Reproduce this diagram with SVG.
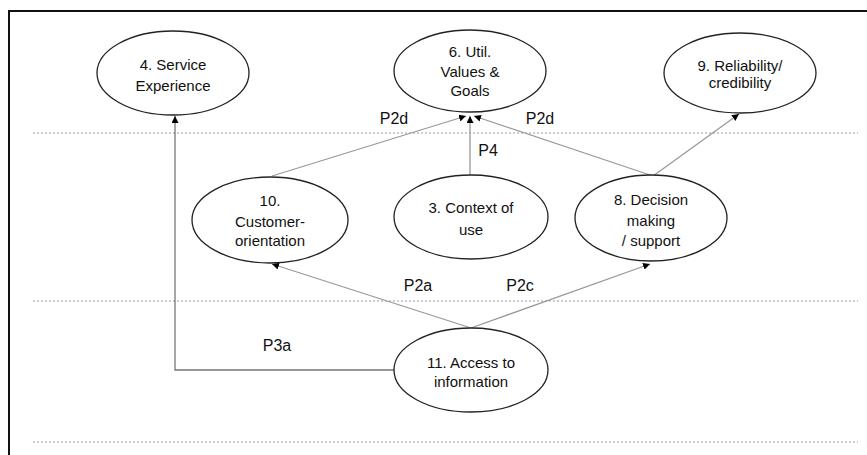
<svg xmlns="http://www.w3.org/2000/svg" width="867" height="455" viewBox="0 0 867 455">
<defs>
<marker id="ah" viewBox="0 0 10 10" refX="10" refY="5" markerWidth="7" markerHeight="7" markerUnits="userSpaceOnUse" orient="auto">
<path d="M0,0 L10,5 L0,10 z" fill="#000"/>
</marker>
</defs>
<style>
.node ellipse{fill:#fff;stroke:#222;stroke-width:1.3}
text{font-family:"Liberation Sans",Arial,sans-serif;font-size:15px;fill:#111;text-anchor:middle}
#labels text{font-size:16px}
.conn line,.conn polyline{stroke:#999;stroke-width:1.3;fill:none}
.dot{stroke:#999;stroke-width:1;stroke-dasharray:2,2}
.frame{stroke:#111;stroke-width:2;fill:none}
</style>
<rect width="867" height="455" fill="#fff"/>
<g id="frame">
<polyline class="frame" points="9,455 9,11 867,11"/>
<line class="dot" x1="33" y1="133" x2="858" y2="133"/>
<line class="dot" x1="33" y1="301" x2="858" y2="301"/>
<line class="dot" x1="33" y1="442" x2="858" y2="442"/>
</g>
<g id="connectors" class="conn">
<polyline points="394,370 175,370 175,116" style="stroke:#777" marker-end="url(#ah)"/>
<line x1="272" y1="176" x2="466" y2="116" marker-end="url(#ah)"/>
<line x1="470" y1="175" x2="470" y2="116" marker-end="url(#ah)"/>
<line x1="653" y1="176" x2="474" y2="116" marker-end="url(#ah)"/>
<line x1="653" y1="176" x2="739" y2="114" marker-end="url(#ah)"/>
<line x1="471" y1="328" x2="272" y2="264" marker-end="url(#ah)"/>
<line x1="471" y1="328" x2="650" y2="264" marker-end="url(#ah)"/>
</g>
<g id="labels">
<text x="394" y="124">P2d</text>
<text x="540" y="124">P2d</text>
<text x="488" y="156">P4</text>
<text x="418" y="291">P2a</text>
<text x="520" y="291">P2c</text>
<text x="277" y="351">P3a</text>
</g>
<g id="n4" class="node">
<ellipse cx="173" cy="73" rx="76" ry="42"/>
<text x="173" y="70">4. Service</text>
<text x="173" y="91">Experience</text>
</g>
<g id="n6" class="node">
<ellipse cx="470" cy="71" rx="76" ry="41"/>
<text x="470" y="57">6. Util.</text>
<text x="470" y="77">Values &amp;</text>
<text x="470" y="96">Goals</text>
</g>
<g id="n9" class="node">
<ellipse cx="740" cy="73" rx="76" ry="40"/>
<text x="740" y="71">9. Reliability/</text>
<text x="740" y="88">credibility</text>
</g>
<g id="n10" class="node">
<ellipse cx="270" cy="220" rx="78" ry="43"/>
<text x="270" y="206">10.</text>
<text x="270" y="227">Customer-</text>
<text x="270" y="246">orientation</text>
</g>
<g id="n3" class="node">
<ellipse cx="471" cy="217" rx="77" ry="42"/>
<text x="471" y="213">3. Context of</text>
<text x="471" y="235">use</text>
</g>
<g id="n8" class="node">
<ellipse cx="651" cy="218" rx="76" ry="43"/>
<text x="651" y="205">8. Decision</text>
<text x="651" y="226">making</text>
<text x="651" y="246">/ support</text>
</g>
<g id="n11" class="node">
<ellipse cx="471" cy="370" rx="77" ry="42"/>
<text x="471" y="368">11. Access to</text>
<text x="471" y="387">information</text>
</g>
</svg>
